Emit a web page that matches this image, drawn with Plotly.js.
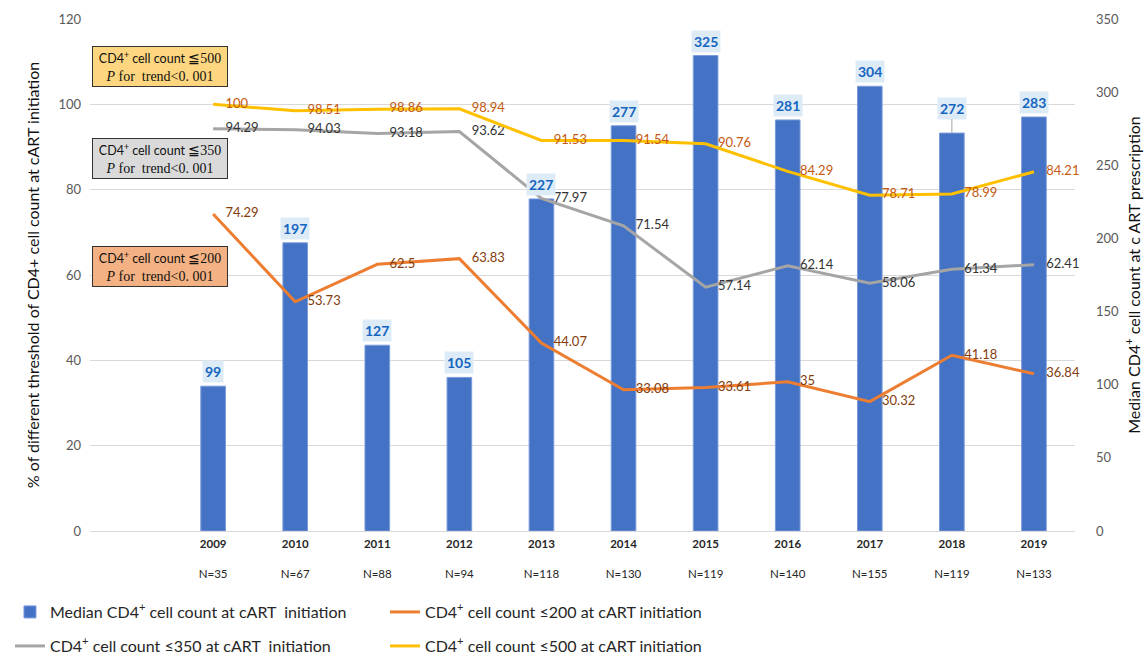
<!DOCTYPE html>
<html>
<head>
<meta charset="utf-8">
<script src="https://cdn.plot.ly/plotly-3.0.1.min.js"></script>
<style>
  html, body { margin: 0; padding: 0; background: #ffffff; }
  #chart { width: 1146px; height: 655px; }
</style>
</head>
<body>
<div id="chart"></div>
<script>
// Yearly cohort: number of patients starting cART and CD4+ counts at initiation
const years = [2009, 2010, 2011, 2012, 2013, 2014, 2015, 2016, 2017, 2018, 2019];
const sampleSizes = [35, 67, 88, 94, 118, 130, 119, 140, 155, 119, 133];
const medianCD4 = [99, 197, 127, 105, 227, 277, 325, 281, 304, 272, 283];
const pctBelow200 = [74.29, 53.73, 62.5, 63.83, 44.07, 33.08, 33.61, 35, 30.32, 41.18, 36.84];
const pctBelow350 = [94.29, 94.03, 93.18, 93.62, 77.97, 71.54, 57.14, 62.14, 58.06, 61.34, 62.41];
const pctBelow500 = [100, 98.51, 98.86, 98.94, 91.53, 91.54, 90.76, 84.29, 78.71, 78.99, 84.21];
const tickLabels = years.map((y, i) => '<b>' + y + '</b><br><br>N=' + sampleSizes[i]);

const SANS = 'Lato, "Liberation Sans", sans-serif';
const SERIF = '"Liberation Serif", "DejaVu Serif", serif';

// Percentage lines live on the overlaying axis so they (and their labels) sit above the bars.
// Transparent markers only serve to push each value label a little to the right of its point.
function lineTrace(name, values, lineColor, labelColor, legendId) {
  return {
    type: 'scatter',
    mode: 'lines+markers+text',
    name: name,
    x: years,
    y: values,
    yaxis: 'y2',
    legend: legendId,
    line: { color: lineColor, width: 3 },
    marker: { size: 18, color: 'rgba(0,0,0,0)', line: { width: 0 } },
    text: values.map(v => String(v)),
    textposition: 'middle right',
    textfont: { family: SANS, size: 13, color: labelColor },
    cliponaxis: false,
    hoverinfo: 'x+y'
  };
}

const barTrace = {
  type: 'bar',
  name: 'Median CD4<sup>+</sup> cell count at cART  initiation',
  x: years,
  y: medianCD4,
  yaxis: 'y',
  width: 0.3,
  legend: 'legend',
  marker: { color: '#4472C4', line: { color: '#7A9BDB', width: 1 } },
  hoverinfo: 'x+y'
};

const traces = [
  barTrace,
  lineTrace('CD4<sup>+</sup> cell count ≤200 at cART initiation', pctBelow200, '#ED7D31', '#843C0C', 'legend'),
  lineTrace('CD4<sup>+</sup> cell count ≤350 at cART  initiation', pctBelow350, '#A5A5A5', '#333333', 'legend2'),
  lineTrace('CD4<sup>+</sup> cell count ≤500 at cART initiation', pctBelow500, '#FFC000', '#C55A11', 'legend2')
];

// Value tags above the bars; the 2018 tag sits higher with a short leader line
const raisedTag = { 2018: 25 };
const barTags = years.map((yr, i) => {
  const lift = raisedTag[yr];
  return {
    x: yr, y: medianCD4[i], xref: 'x', yref: 'y',
    text: '<b>' + medianCD4[i] + '</b>',
    font: { family: SANS, size: 14, color: '#1565C0' },
    bgcolor: '#DDEBF7', borderpad: 2,
    showarrow: !!lift,
    arrowhead: 0, arrowwidth: 1, arrowcolor: '#A6A6A6', ax: 0, ay: lift ? -lift : 0, standoff: 0,
    yanchor: lift ? 'middle' : 'bottom',
    yshift: lift ? 0 : 3
  };
});

// Trend-test boxes on the left of the plot
function trendBox(threshold, yPos, fill) {
  return {
    xref: 'paper', yref: 'paper', x: 0.002, y: yPos, xanchor: 'left', yanchor: 'middle',
    showarrow: false, align: 'center', width: 132, height: 37,
    bgcolor: fill, bordercolor: '#333333', borderwidth: 1, borderpad: 1,
    font: { family: SERIF, size: 14, color: '#111111' },
    text: '<span style="font-family:Lato, Liberation Sans, sans-serif;font-size:12.5px">CD4<sup>+</sup> cell count </span>≦' + threshold +
          '<br><i>P</i> for  trend&lt;0. 001'
  };
}

const legendFont = { family: SANS, size: 16, color: '#262626' };

const layout = {
  width: 1146, height: 655,
  margin: { l: 90, r: 71, t: 19, b: 124 },
  paper_bgcolor: '#ffffff', plot_bgcolor: '#ffffff',
  showlegend: true,
  xaxis: {
    range: [2007.5, 2019.5],
    tickmode: 'array', tickvals: years, ticktext: tickLabels,
    tickfont: { family: SANS, size: 11.5, color: '#262626' },
    ticklabelstandoff: 2,
    showgrid: false, zeroline: false,
    showline: true, linecolor: '#D9D9D9', linewidth: 1,
    ticks: '', fixedrange: true
  },
  yaxis: {
    range: [0, 350], dtick: 50, side: 'right',
    tickfont: { family: SANS, size: 13, color: '#595959' },
    showgrid: false, zeroline: false,
    ticklabelstandoff: 20,
    title: { text: 'Median CD4<sup>+</sup> cell count at c ART prescription',
             font: { family: SANS, size: 16, color: '#111111' }, standoff: 10 }
  },
  yaxis2: {
    range: [0, 120], dtick: 20, overlaying: 'y', side: 'left',
    tickfont: { family: SANS, size: 13, color: '#595959' },
    showgrid: true, gridcolor: '#D9D9D9', gridwidth: 1, zeroline: false,
    ticklabelstandoff: 8,
    title: { text: '% of different threshold of CD4+ cell count at cART initiation',
             font: { family: SANS, size: 16, color: '#111111' }, standoff: 14 }
  },
  legend: {
    orientation: 'h', xref: 'container', yref: 'container',
    x: 0.0087, xanchor: 'left', y: 0.0656, yanchor: 'middle',
    entrywidth: 330, font: legendFont, bgcolor: 'rgba(0,0,0,0)'
  },
  legend2: {
    orientation: 'h', xref: 'container', yref: 'container',
    x: 0.0087, xanchor: 'left', y: 0.0137, yanchor: 'middle',
    entrywidth: 330, font: legendFont, bgcolor: 'rgba(0,0,0,0)'
  },
  annotations: barTags.concat([
    trendBox(500, 0.907, '#FDD67F'),
    trendBox(350, 0.7285, '#DADADA'),
    trendBox(200, 0.5166, '#F4B183')
  ])
};

Plotly.newPlot('chart', traces, layout, { displayModeBar: false, responsive: false });
</script>
</body>
</html>
